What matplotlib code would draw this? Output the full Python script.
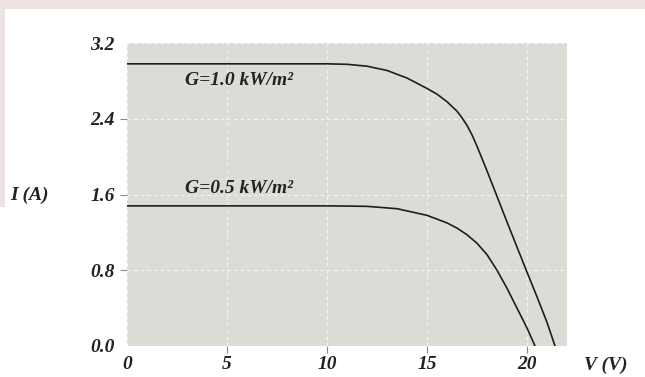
import matplotlib
matplotlib.use("Agg")
import matplotlib.pyplot as plt
from matplotlib.patches import Rectangle

# Data
v_g1 = [0, 10, 11, 12, 13, 14, 15, 15.5, 16, 16.5, 16.75, 17, 17.25, 17.5, 18, 18.5, 19, 20, 20.5, 21, 21.4]
i_g1 = [2.98, 2.98, 2.975, 2.955, 2.91, 2.83, 2.72, 2.66, 2.58, 2.48, 2.41, 2.33, 2.23, 2.11, 1.85, 1.58, 1.31, 0.78, 0.52, 0.25, 0.0]

v_g05 = [0, 10, 12, 13.5, 15, 16, 16.5, 17, 17.5, 18, 18.5, 19, 19.5, 20, 20.4]
i_g05 = [1.48, 1.48, 1.475, 1.45, 1.38, 1.30, 1.245, 1.175, 1.085, 0.965, 0.80, 0.61, 0.40, 0.19, 0.0]

x_ticks = [0, 5, 10, 15, 20]
x_labels = ["0", "5", "10", "15", "20"]
y_ticks = [0.0, 0.8, 1.6, 2.4, 3.2]
y_labels = ["0.0", "0.8", "1.6", "2.4", "3.2"]
label_g1 = "G=1.0 kW/m²"
label_g05 = "G=0.5 kW/m²"

font = dict(family="Liberation Serif", style="italic", weight="bold")

fig = plt.figure(figsize=(6.45, 3.77), dpi=100)
fig.patch.set_facecolor("white")
# pinkish page frame at the top/left
fig.patches.append(Rectangle((0, 1 - 9/377), 1, 9/377, transform=fig.transFigure,
                             facecolor="#efe1e1", edgecolor="none", zorder=0))
fig.patches.append(Rectangle((0, 0.45), 5/645, 0.55, transform=fig.transFigure,
                             facecolor="#efe1e1", edgecolor="none", zorder=0))

ax = fig.add_axes([127/645, 1 - 346/377, 440/645, 303/377])
ax.set_facecolor("#dcdcd6")
for s in ax.spines.values():
    s.set_visible(False)

ax.plot(v_g1, i_g1, color="#1e1e1e", lw=1.2)
ax.plot(v_g05, i_g05, color="#1e1e1e", lw=1.2)

ax.set_xlim(0, 22)
ax.set_ylim(0, 3.2)
ax.set_xticks(x_ticks)
ax.set_xticklabels(x_labels, fontsize=14, **font)
ax.set_yticks(y_ticks)
ax.set_yticklabels(y_labels, fontsize=14, **font)
ax.tick_params(axis="both", length=5, width=0.8, color="#888888", labelcolor="#222222")
ax.tick_params(axis="x", pad=2)
ax.tick_params(axis="y", pad=4)
for t, val in zip(ax.xaxis.get_major_ticks(), x_ticks):
    if val == 0:
        t.tick1line.set_visible(False)
for t, val in zip(ax.yaxis.get_major_ticks(), y_ticks):
    if val in (0.0, 3.2):
        t.tick1line.set_visible(False)

ax.grid(True, color="white", ls=(0, (3, 3)), lw=0.8, alpha=0.7)
ax.set_axisbelow(True)

ax.text(2.9, 2.80, label_g1, fontsize=14, color="#222222", va="center", **font)
ax.text(2.9, 1.66, label_g05, fontsize=14, color="#222222", va="center", **font)

fig.text(10/645, 1 - 195/377, "I (A)", fontsize=14, color="#222222", va="center", ha="left", **font)
fig.text(584/645, 1 - 365/377, "V (V)", fontsize=14, color="#222222", va="center", ha="left", **font)

fig.savefig("out.png", dpi=100)
